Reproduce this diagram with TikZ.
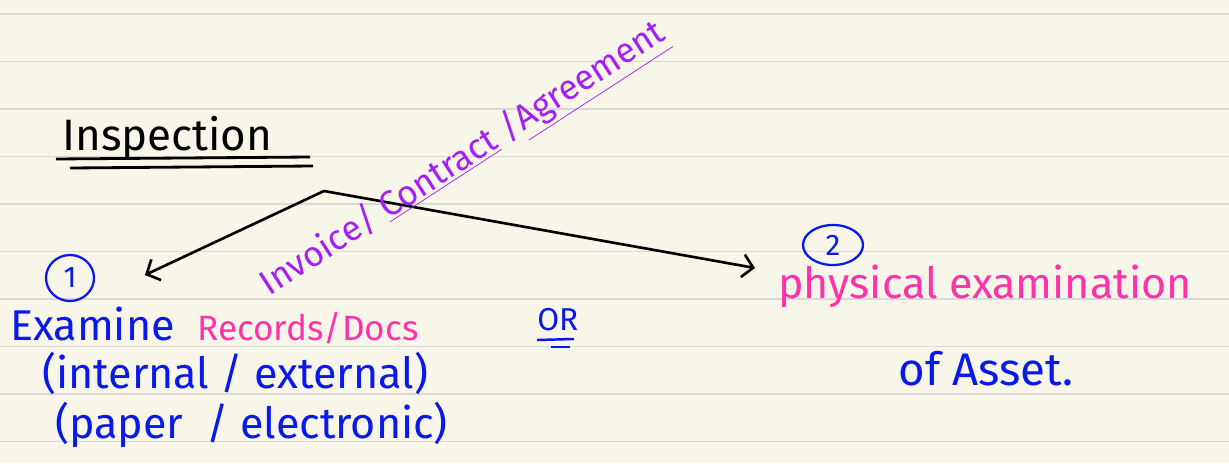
\documentclass[tikz,border=0pt]{standalone}
\usepackage{fontspec}
\setmainfont{Fira Sans}
\usetikzlibrary{arrows.meta,shapes.geometric}
\definecolor{carta}{RGB}{248,246,232}
\definecolor{riga}{RGB}{217,217,214}
\definecolor{penblue}{RGB}{10,25,235}
\definecolor{penpink}{RGB}{255,50,170}
\definecolor{penviolet}{RGB}{165,30,245}
\tikzset{
  hand/.style={font=\fontsize{22}{26}\selectfont, inner sep=0pt},
  big/.style={font=\fontsize{24.5}{28}\selectfont},
  num/.style={draw=penblue, text=penblue, ellipse, line width=1.3pt, inner sep=0pt,
    font=\fontsize{17}{19}\selectfont},
}
\begin{document}
\begin{tikzpicture}[x=0.02cm, y=-0.02cm, >={Straight Barb[length=6pt,width=13pt]}]
        % foglio
        \fill[carta] (0,0) rectangle (1229,463);
        \useasboundingbox (0,0) rectangle (1229,463);
        % righe
        \foreach \k in {0,...,9}
            \draw[riga, line width=1pt] (0,{14+47.5*\k}) -- (1229,{14+47.5*\k});

        % titolo
        \node[hand, anchor=base west, font=\fontsize{25}{29}\selectfont] (title) at (62,150) {Inspection};
        \draw[line width=1.6pt] (56,159) -- (310,157);
        \draw[line width=1.6pt] (70,168) -- (313,166);

        % rami
        \coordinate (fork) at (324,191);
        \coordinate (tipA) at (145,275);
        \coordinate (tipB) at (755,268);
        \draw[->, line width=1.5pt] (fork) -- (tipA);
        \draw[->, line width=1.5pt] (fork) -- (tipB);

        % etichetta obliqua
        \node[hand, text=penviolet, rotate=33, font=\fontsize{20}{24}\selectfont] (docs) at (464,160)
            {Invoice/ \underline{Contract} /\underline{Agreement}};

        % ramo 1
        \node[num, minimum width=0.96cm, minimum height=0.92cm] (one) at (70,278) {1};
        \node[hand, big, text=penblue, anchor=base west] (examine) at (10,340) {Examine};
        \node[hand, text=penpink, anchor=base west, font=\fontsize{20}{24}\selectfont] (records) at (197,340) {Records/Docs};
        \node[hand, big, text=penblue, anchor=base west] (kind) at (42,388) {(internal / external)};
        \node[hand, big, text=penblue, anchor=base west] (media) at (55,438) {(paper \ / electronic)};

        % oppure
        \node[hand, text=penblue, anchor=base west, font=\fontsize{18}{20}\selectfont] (or) at (537,330) {OR};
        \draw[penblue, line width=1.4pt] (537,340) -- (574,339);
        \draw[penblue, line width=1.4pt] (551,347) -- (570,347);

        % ramo 2
        \node[num, minimum width=1.2cm, minimum height=0.8cm] (two) at (833,245) {2};
        \node[hand, text=penpink, anchor=base west, font=\fontsize{24.5}{28}\selectfont] (physical) at (778,298) {physical examination};
        \node[hand, text=penblue, anchor=base west, font=\fontsize{26}{30}\selectfont] (asset) at (898,385) {of Asset.};
    \end{tikzpicture}
\end{document}
